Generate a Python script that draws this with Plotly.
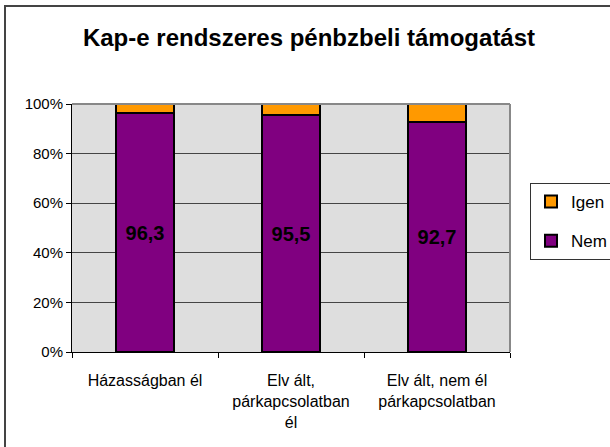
import plotly.graph_objects as go

categories = ["Házasságban él", "Elv ált,<br>párkapcsolatban<br>él", "Elv ált, nem él<br>párkapcsolatban"]
nem = [96.3, 95.5, 92.7]
igen = [3.7, 4.5, 7.3]
nem_labels = ["<b>96,3</b>", "<b>95,5</b>", "<b>92,7</b>"]
y_ticks = [0, 20, 40, 60, 80, 100]
y_tick_text = ["0%", "20%", "40%", "60%", "80%", "100%"]

FONT = "Arial, Liberation Sans, sans-serif"

fig = go.Figure()
fig.add_trace(go.Bar(
    x=categories, y=nem, name="Nem", legendgroup="nem", legendrank=2,
    marker=dict(color="#800080", line=dict(color="black", width=2)),
    text=nem_labels, textposition="inside", insidetextanchor="middle",
    textfont=dict(family=FONT, size=20, color="black"),
    textangle=0,
))
fig.add_trace(go.Bar(
    x=categories, y=igen, name="Igen", legendgroup="igen", legendrank=1,
    marker=dict(color="#FF9900", line=dict(color="black", width=2)),
    textposition="none",
))

L, R, T, B = 72, 100, 104, 95
W, H = 610, 447
pw, ph = W - L - R, H - T - B

def px_x(x):
    return (x - L) / pw

def px_y(y):
    return (H - B - y) / ph

fig.update_layout(
    width=W, height=H,
    margin=dict(l=L, r=R, t=T, b=B, autoexpand=False),
    barmode="stack", bargap=0.6,
    paper_bgcolor="white", plot_bgcolor="#dedede",
    font=dict(family=FONT, size=15, color="black"),
    title=dict(text="<b>Kap-e rendszeres pénbzbeli támogatást</b>",
               font=dict(family=FONT, size=24, color="black"),
               x=px_x(309), xref="paper", xanchor="center",
               y=1 - 38 / H, yref="container", yanchor="middle"),
    legend=dict(x=px_x(530), y=px_y(183), xanchor="left", yanchor="top",
                traceorder="grouped", bordercolor="#333", borderwidth=1,
                bgcolor="white", font=dict(family=FONT, size=17),
                itemwidth=30, tracegroupgap=14),
    showlegend=True,
)
fig.update_yaxes(range=[0, 100], tickvals=y_ticks, ticktext=y_tick_text,
                 showgrid=True, gridcolor="#444", gridwidth=1,
                 ticks="outside", ticklen=5, tickcolor="black",
                 showline=True, linecolor="black", linewidth=1,
                 tickfont=dict(size=15), zeroline=False)
fig.update_xaxes(showgrid=False, ticks="outside", tickson="boundaries",
                 ticklen=5, tickcolor="black", ticklabelstandoff=14,
                 showline=True, linecolor="black", linewidth=1,
                 tickfont=dict(size=16))

# gray top/right border of plot area
fig.add_shape(type="line", xref="paper", yref="paper", x0=0, x1=1, y0=1, y1=1,
              line=dict(color="#888", width=2), layer="above")
fig.add_shape(type="line", xref="paper", yref="paper", x0=1, x1=1, y0=0, y1=1,
              line=dict(color="#888", width=2), layer="above")
# outer chart frame
fig.add_shape(type="rect", xref="paper", yref="paper",
              x0=px_x(5), x1=px_x(625), y0=px_y(460), y1=px_y(6),
              line=dict(color="#444", width=2), fillcolor="rgba(0,0,0,0)")

fig.write_html("out.html", config={"displayModeBar": False},
               post_script="document.body.style.margin='0px';")
